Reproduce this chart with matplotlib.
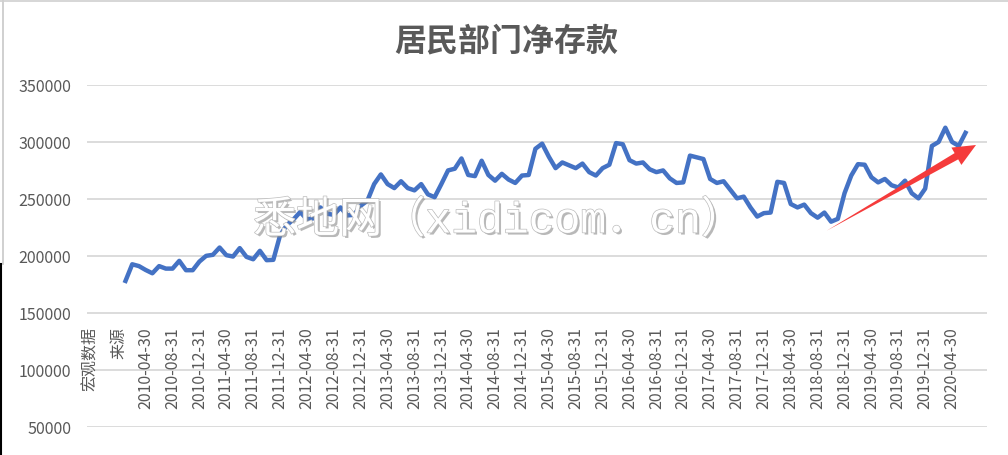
import numpy as np
import pandas as pd
import matplotlib
matplotlib.use('Agg')
from matplotlib import pyplot as plt
from matplotlib.patches import Polygon
from matplotlib.lines import Line2D
import matplotlib.patheffects as pe

plt.rcParams['font.family'] = ['Noto Sans CJK SC', 'DejaVu Sans']

title = '居民部门净存款'
source_label = '宏观数据\n来源'
watermark = '悉地网（xidicom．cn）'

# monthly data, 2010-01 .. 2020-06
months = pd.date_range('2010-01-31', periods=126, freq='ME')
deposits = [
    178000, 192600, 191000, 187600, 184700, 191000, 188800, 188800, 195600, 187400,
    187400, 195000, 200000, 200900, 207300, 200600, 199400, 206800, 199100, 197000,
    204400, 196200, 196500, 218000, 227000, 232000, 238500, 232000, 233000, 242500,
    237000, 236000, 242500, 235500, 236000, 244000, 248500, 263000, 271500, 263000,
    259500, 265500, 259500, 257500, 263000, 254000, 251500, 263000, 275000, 276500,
    285500, 271000, 270000, 283500, 271000, 266000, 272000, 267000, 264000, 270500,
    271000, 294000, 298500, 287000, 277000, 282000, 279500, 277000, 281000, 273500,
    270500, 277000, 280000, 299000, 298000, 284000, 281000, 282000, 276000, 273500,
    275000, 268000, 264000, 264500, 288000, 286500, 285000, 267500, 264000, 265500,
    258000, 250500, 252000, 242500, 234500, 237500, 238000, 265000, 264000, 245500,
    242500, 245000, 237500, 233500, 238000, 230000, 232500, 255000, 270500, 280500,
    280000, 269000, 264500, 267500, 262000, 260000, 266000, 255000, 250500, 259000,
    296500, 300000, 312500, 300000, 296500, 308000,
]
yticks = [50000, 100000, 150000, 200000, 250000, 300000, 350000]
label_step = 4

W, H = 1008, 456
fig = plt.figure(figsize=(W / 100, H / 100), dpi=100)
ax = fig.add_axes([87 / W, 1 - 427.7 / H, 900 / W, (427.7 - 86) / H])

# category 0 is the source label, dates follow
x = np.arange(1, len(deposits) + 1)
ax.plot(x, deposits, color='#4472C4', lw=3.2, solid_joinstyle='round', zorder=3)

ax.set_xlim(-4.73, 129.2)
ax.set_ylim(50000, 350000)
ax.set_yticks(yticks)
ax.set_yticklabels([str(v) for v in yticks], fontsize=11.5, color='#595959')
ax.tick_params(axis='y', length=0, pad=11.5)
ax.set_xticks([])
ax.grid(axis='y', color='#d9d9d9', lw=1.3)
ax.set_axisbelow(True)
for s in ax.spines.values():
    s.set_visible(False)

# category labels sit inside the plot, like the excel screenshot
tr = ax.get_xaxis_transform()
label_top = (427.7 - 327) / (427.7 - 86)
ax.text(-2.1, label_top, source_label, transform=tr, rotation=90, ha='center', va='top',
        multialignment='right', fontsize=11.5, color='#595959', linespacing=1.9)
for i in range(label_step, len(deposits) + 1, label_step):
    lab = months[i - 1].strftime('%Y-%m-%d')
    ax.text(i, label_top, lab, transform=tr, rotation=90, ha='center', va='top',
            fontsize=11.5, color='#595959')

fig.text(506 / W, 1 - 41 / H, title, ha='center', va='center', fontsize=23,
         color='#595959', fontweight='bold')

# watermark
fig.text(498 / W, 1 - 222 / H, watermark, ha='center', va='center', fontsize=31,
         family=['Liberation Mono', 'Noto Sans CJK SC'], color='white', zorder=5,
         path_effects=[pe.SimplePatchShadow(offset=(1.5, -1.5), shadow_rgbFace='#8a8a8a', alpha=0.6),
                       pe.Stroke(linewidth=1.0, foreground='#bdbdbd'), pe.Normal()])

# red arrow (pixel geometry, y from top)
tail = np.array([826.7, 231.7])
tip = np.array([976.0, 146.0])
u = (tip - tail) / np.linalg.norm(tip - tail)
n = np.array([-u[1], u[0]])
base = tip - u * 22.6
shaft_w, head_w = 3.6, 10.0
pts = [tail, base + n * shaft_w, base + n * head_w, tip, base - n * head_w, base - n * shaft_w]
pts = [(p[0] / W, 1 - p[1] / H) for p in pts]
fig.patches.append(Polygon(pts, closed=True, transform=fig.transFigure, facecolor='#f53b3b',
                           edgecolor='none', zorder=6))

# sheet borders from the screenshot
fig.lines.append(Line2D([3 / W, 3 / W], [1, 1 - 265 / H], transform=fig.transFigure, color='#c8c8c8', lw=1.2))
fig.lines.append(Line2D([0, 1], [1 - 2 / H, 1 - 2 / H], transform=fig.transFigure, color='#d0d0d0', lw=1.2))
fig.lines.append(Line2D([1 / W, 1 / W], [1 - 265 / H, 0], transform=fig.transFigure, color='black', lw=1.5))

fig.savefig('out.png', dpi=100)
